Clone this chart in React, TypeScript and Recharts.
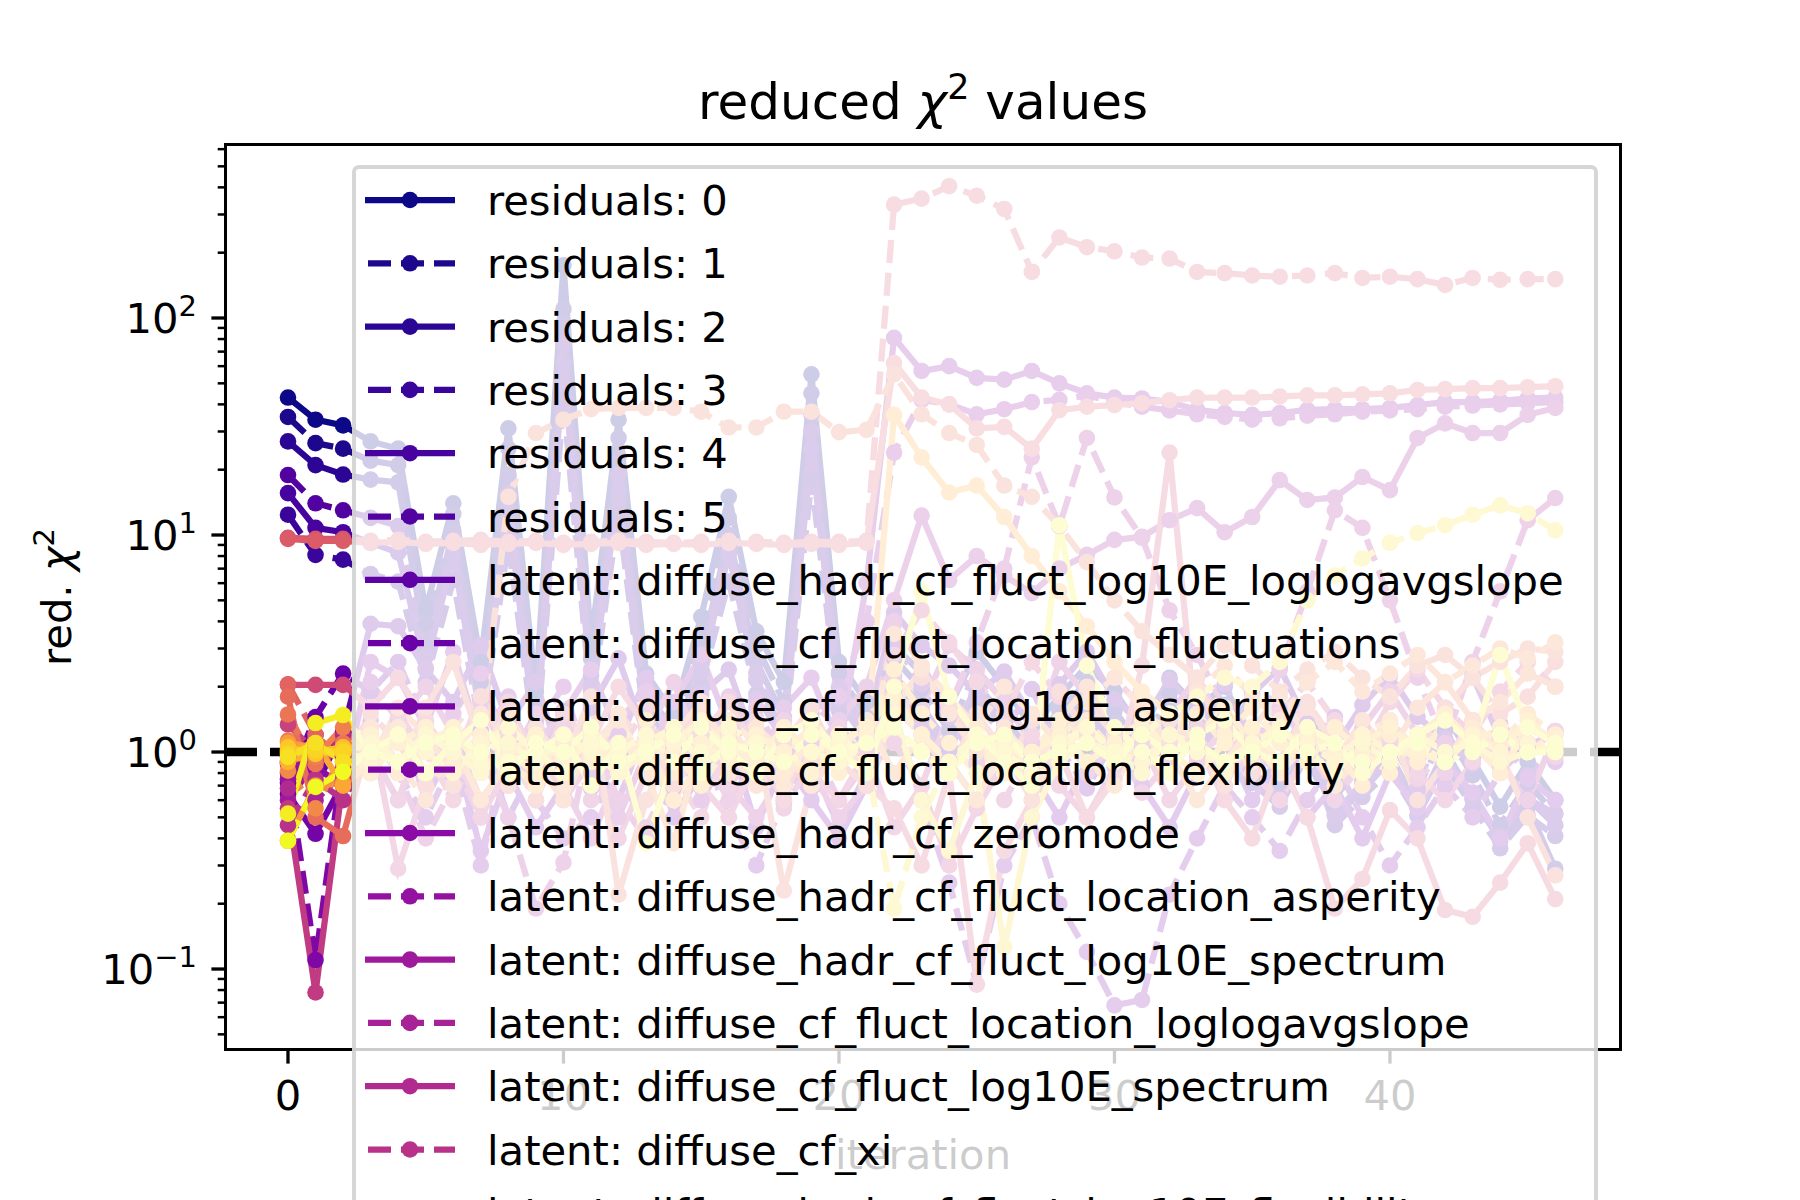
import { LineChart, Line, XAxis, YAxis, ReferenceLine } from 'recharts';

// iteration axis
const iterations = [
  0, 1, 2, 3, 4, 5, 6, 7, 8, 9, 10, 11, 12, 13, 14, 15, 16, 17, 18, 19, 20, 21, 22, 23,
  24, 25, 26, 27, 28, 29, 30, 31, 32, 33, 34, 35, 36, 37, 38, 39, 40, 41, 42, 43, 44, 45, 46,
];

const xTicks = [0, 10, 20, 30, 40];
const yTicks = [
  0.05, 0.06, 0.07, 0.08, 0.09, 0.1, 0.2, 0.3, 0.4, 0.5, 0.6, 0.7, 0.8, 0.9,
  1, 2, 3, 4, 5, 6, 7, 8, 9, 10, 20, 30, 40, 50, 60, 70, 80, 90, 100, 200, 300, 400, 500, 600,
];

// reduced chi^2 per iteration, one array per series (legend order)
const res0 = [
  43, 34, 32, 27, 25, 4.5, 14, 2.6, 31, 1.9,
  175, 3.2, 34, 2.3, 1.5, 4.2, 15, 3.6, 2.1, 55,
  2.6, 1.7, 3.1, 2.3, 1.6, 2.9, 2.0, 1.3, 1.8, 2.5,
  1.9, 1.25, 2.2, 1.6, 2.0, 1.15, 0.9, 1.65, 0.72, 1.05,
  1.35, 0.82, 1.5, 0.92, 0.56, 0.9, 0.6,
];
const res1 = [
  35, 26.5, 25, 22, 21, 3.9, 12.5, 2.1, 25, 1.6,
  110, 2.7, 28, 1.9, 1.25, 3.3, 12, 3.1, 1.7, 45,
  2.3, 1.45, 2.7, 1.95, 1.25, 2.4, 1.7, 1.1, 1.55, 2.1,
  1.55, 1.05, 1.85, 1.35, 1.65, 0.95, 0.72, 1.35, 0.62, 0.88,
  1.15, 0.67, 1.25, 0.78, 0.46, 0.72, 0.52,
];
const res2 = [
  27, 21, 19, 18, 17.5, 3.1, 10.5, 1.75, 19, 1.35,
  95, 2.25, 23, 1.55, 1.05, 2.8, 10, 2.6, 1.45, 36,
  1.95, 1.25, 2.25, 1.65, 1.05, 2.05, 1.45, 0.98, 1.35, 1.75,
  1.35, 0.92, 1.55, 1.12, 1.42, 0.82, 0.62, 1.12, 0.52, 0.72,
  0.98, 0.56, 1.02, 0.62, 0.39, 0.56, 0.29,
];
const res3 = [
  12.4, 8.1, 7.7, 6.6, 6.1, 2.1, 6.2, 1.25, 9.2, 1.02,
  42, 1.65, 12.5, 1.22, 0.82, 2.05, 6.1, 1.85, 1.12, 18,
  1.55, 1.02, 1.82, 1.42, 0.92, 1.62, 1.22, 0.82, 1.12, 1.42,
  1.12, 0.82, 1.32, 0.97, 1.22, 0.72, 0.56, 0.97, 0.46, 0.62,
  0.82, 0.51, 0.87, 0.56, 0.36, 0.51, 0.41,
];
const res4 = [
  15.6, 10.8, 10.3, 9.2, 8.3, 2.45, 8.1, 1.42, 13, 1.12,
  62, 1.92, 16, 1.32, 0.92, 2.35, 8.2, 2.15, 1.22, 25,
  1.72, 1.12, 2.02, 1.52, 1.02, 1.82, 1.32, 0.92, 1.22, 1.52,
  1.22, 0.87, 1.42, 1.02, 1.32, 0.77, 0.61, 1.02, 0.51, 0.66,
  0.92, 0.51, 0.92, 0.61, 0.41, 0.61, 0.46,
];
const res5 = [
  18.9, 14, 13, 12, 11, 2.75, 9.2, 1.52, 15.5, 1.22,
  76, 2.02, 19, 1.42, 1.02, 2.55, 9.1, 2.32, 1.32, 30,
  1.82, 1.22, 2.12, 1.55, 1.12, 1.92, 1.32, 0.92, 1.22, 1.62,
  1.22, 0.92, 1.42, 1.07, 1.32, 0.82, 0.61, 1.07, 0.51, 0.72,
  0.92, 0.56, 0.97, 0.61, 0.41, 0.61, 0.52,
];
const lat06 = [
  0.9, 0.7, 1.24, 3.9, 3.8, 2.4, 1.7, 3.1, 1.35, 2.1,
  0.85, 1.6, 2.7, 1.15, 0.68, 1.85, 2.4, 1.05, 0.58, 1.5,
  2.0, 1.3, 4.4, 3.1, 2.5, 1.85, 2.35, 1.45, 2.05, 2.9,
  1.75, 1.35, 2.15, 1.55, 1.15, 1.85, 2.45, 1.35, 1.05, 1.65,
  2.25, 1.45, 1.15, 0.88, 1.35, 1.05, 1.25,
];
const lat07 = [
  0.72, 1.45, 2.3, 1.9, 2.6, 1.35, 0.78, 1.2, 0.5, 0.88,
  1.55, 0.68, 1.1, 2.2, 1.25, 0.6, 0.98, 1.75, 1.15, 0.68,
  1.35, 0.88, 3.2, 2.05, 1.45, 0.88, 1.25, 1.95, 1.05, 0.68,
  1.15, 1.55, 0.88, 1.25, 2.05, 1.15, 0.78, 1.05, 1.45, 0.88,
  1.25, 0.68, 1.55, 2.25, 1.15, 0.78, 1.05,
];
const lat08 = [
  0.64, 0.42, 0.72, 0.9, 1.5, 0.6, 1.1, 0.35, 0.8, 0.45,
  0.7, 0.9, 0.6, 1.3, 0.5, 0.8, 1.2, 0.45, 0.9, 0.6,
  0.4, 0.7, 1.8, 1.3, 0.9, 0.6, 1.1, 0.8, 0.5, 0.9,
  1.3, 0.7, 0.45, 0.8, 1.1, 0.6, 0.9, 0.5, 0.7, 0.4,
  0.8, 0.55, 0.9, 0.65, 0.4, 0.75, 0.6,
];
const lat09 = [
  0.8, 0.11, 0.95, 1.4, 0.8, 0.5, 0.9, 0.3, 1.2, 0.6,
  0.4, 0.5, 0.9, 0.4, 0.7, 1.1, 0.5, 0.3, 0.6, 0.9,
  0.45, 0.8, 1.5, 0.6, 0.25, 0.085, 0.3, 0.5, 0.2, 0.12,
  0.068, 0.072, 0.22, 0.4, 0.7, 0.5, 0.35, 0.6, 0.9, 0.5,
  0.3, 0.45, 0.7, 0.5, 0.8, 1.1, 0.9,
];
const lat10 = [
  0.95, 0.85, 0.7, 2.6, 2.2, 1.3, 2.9, 1.1, 1.8, 0.8,
  1.5, 2.4, 1.2, 0.9, 1.7, 2.8, 1.3, 0.8, 1.6, 2.2,
  1.1, 6, 81, 57, 60, 53, 52, 57, 50, 45,
  43, 42.6, 41, 37.7, 36.5, 35.8, 36.5, 37.7, 38, 38,
  38.5, 39.7, 41, 41, 41.5, 42.6, 43,
];
const lat11 = [
  0.75, 1.2, 0.95, 2.1, 1.4, 0.7, 1.5, 2.3, 1.0, 1.3,
  2.0, 0.8, 1.4, 1.9, 1.1, 0.6, 1.2, 1.6, 0.9, 1.3,
  1.8, 4, 24, 42, 40, 36, 38, 41, 42, 44,
  41, 39, 37.5, 36, 35, 34, 34.5, 35.5, 36, 37,
  37.5, 38, 39, 39.5, 40, 40.5, 41,
];
const lat12 = [
  0.6, 0.9, 1.1, 1.0, 0.6, 1.2, 0.9, 1.7, 0.7, 1.1,
  1.5, 0.9, 0.5, 1.0, 1.3, 0.8, 1.8, 1.2, 0.7, 1.0,
  1.4, 2.0, 5, 12.3, 6.2, 8, 6.5, 5.4, 7, 8.1,
  9.5, 9.8, 11.7, 13.3, 10.3, 12.1, 17.9, 14.5, 14.9, 18.5,
  16.1, 28, 32.7, 29.5, 29.5, 35.8, 38.5,
];
const lat13 = [
  0.88, 0.6, 0.8, 1.2, 0.8, 0.4, 0.7, 1.0, 0.5, 0.19,
  0.31, 1.2, 0.6, 0.4, 0.9, 1.3, 0.7, 0.5, 0.8, 1.1,
  0.6, 0.9, 4, 2.5, 1.6, 3.2, 7, 22.8, 11, 28,
  14.9, 9.7, 4.5, 2.8, 1.6, 0.9, 2.4, 5.5, 13, 10.8,
  5, 2.2, 1.1, 2.6, 5.5, 11.7, 14.8,
];
const lat14 = [
  0.68, 0.95, 1.2, 0.8, 1.4, 2.0, 1.2, 0.6, 0.9, 1.5,
  0.7, 0.4, 0.8, 1.2, 2.1, 1.0, 0.6, 0.9, 1.4, 0.8,
  0.5, 0.7, 2.2, 1.6, 3.1, 2.4, 1.7, 1.1, 2.6, 1.8,
  1.2, 0.8, 1.5, 2.2, 1.3, 0.9, 1.6, 1.1, 0.7, 1.3,
  1.9, 1.2, 0.8, 1.4, 0.9, 0.6, 1.2,
];
const lat15 = [
  0.46, 0.75, 0.6, 1.0, 0.6, 1.4, 0.9, 0.5, 1.1, 0.8,
  1.3, 0.6, 0.9, 0.45, 0.8, 1.2, 0.7, 1.0, 0.55, 0.9,
  1.3, 0.8, 1.1, 0.7, 1.5, 0.9, 0.6, 1.0, 1.4, 0.8,
  1.1, 0.65, 0.9, 1.3, 0.7, 1.0, 0.8, 1.2, 0.6, 0.9,
  1.1, 0.75, 1.0, 1.3, 0.85, 1.1, 0.95,
];
const lat16 = [
  0.55, 0.078, 0.75, 1.3, 0.29, 0.7, 1.1, 0.5, 0.85, 1.2,
  0.6, 0.9, 0.4, 0.8, 1.1, 0.7, 0.5, 0.9, 1.3, 0.8,
  0.6, 1.0, 0.45, 0.7, 0.3, 0.55, 0.9, 1.2, 0.7, 0.5,
  0.85, 1.1, 0.6, 0.9, 1.3, 0.8, 0.6, 1.0, 0.7, 0.9,
  1.1, 0.8, 0.6, 0.9, 1.2, 1.0, 1.25,
];
const lat17 = [
  1.34, 1.0, 0.85, 0.8, 1.5, 1.0, 0.6, 1.2, 1.7, 0.9,
  0.7, 1.3, 1.0, 1.6, 0.8, 0.5, 1.1, 1.4, 0.9, 0.7,
  1.2, 1.0, 2.8, 4.5, 3.2, 2.1, 1.5, 2.6, 1.8, 1.3,
  2.2, 1.6, 1.1, 1.8, 1.3, 0.9, 1.5, 2.1, 1.4, 1.0,
  1.7, 2.4, 1.6, 1.2, 1.9, 2.6, 2.0,
];
const lat18 = [
  2.04, 2.04, 2.04, 1.6, 2.2, 1.4, 0.9, 1.8, 1.2, 0.7,
  1.5, 1.1, 2.0, 1.3, 0.8, 1.2, 1.7, 1.0, 0.6, 1.3,
  0.9, 0.7, 0.55, 0.3, 0.8, 0.085, 0.35, 0.6, 1.0, 0.5,
  0.75, 2.5, 24, 1.1, 0.6, 0.4, 0.9, 0.5, 0.19, 0.26,
  0.54, 0.4, 0.187, 0.174, 0.25, 0.38, 0.21,
];
const lat19 = [
  9.7, 9.6, 9.6, 9.4, 9.5, 9.3, 9.4, 9.5, 9.3, 9.4,
  9.2, 9.3, 9.4, 9.3, 9.2, 9.3, 9.4, 9.3, 9.2, 9.3,
  9.3, 9.4, 333, 355, 405, 366, 318, 163, 235, 212,
  203, 190, 188, 163, 161, 157, 155, 157, 161, 153,
  155, 151, 142, 153, 150, 151, 151,
];
const lat20 = [
  9.6, 9.4, 9.4, 9.2, 9.3, 9.1, 9.2, 9.0, 9.1, 9.2,
  9.0, 9.1, 9.2, 9.0, 9.1, 9.0, 9.2, 9.1, 9.0, 9.1,
  9.0, 9.2, 62, 43, 40, 31, 31.5, 25, 37.6, 39,
  39.7, 40.5, 41.8, 43, 43, 43, 43.5, 44, 44, 44.5,
  45, 46.6, 47, 47.5, 47.5, 48, 48.5,
];
const lat21 = [
  2.05, 1.2, 0.9, 1.5, 1.1, 0.7, 1.3, 1.8, 1.0, 0.6,
  1.2, 0.9, 1.5, 1.1, 0.7, 1.0, 1.4, 0.8, 1.1, 1.6,
  0.9, 0.7, 1.3, 2.2, 1.6, 1.1, 0.8, 1.4, 1.9, 1.2,
  0.9, 1.5, 1.1, 2.0, 1.3, 0.8, 1.2, 1.7, 1.1, 0.9,
  1.4, 1.0, 1.6, 2.2, 1.5, 1.8, 2.6,
];
const lat22 = [
  1.8, 0.5, 0.41, 1.2, 0.8, 1.6, 2.6, 1.1, 0.7, 1.3,
  0.9, 1.8, 0.22, 0.6, 1.1, 1.5, 0.8, 1.2, 0.23, 0.7,
  1.0, 1.4, 2.0, 1.2, 0.8, 1.5, 1.0, 0.6, 1.1, 1.7,
  1.2, 0.9, 1.4, 1.0, 0.7, 1.2, 0.9, 1.6, 1.1, 0.8,
  1.3, 0.6, 0.9, 1.4, 1.0, 0.5, 0.27,
];
const lat23 = [
  1.49, 0.88, 1.1, 0.8, 1.3, 1.0, 0.7, 1.2, 15, 29.5,
  34, 38, 38.5, 38.5, 38.5, 37, 31.3, 31.3, 37, 37,
  29.8, 30.5, 55, 36, 29.5, 26, 16.9, 15, 11, 7.5,
  5, 3.6, 2.8, 2.2, 3.1, 2.5, 1.9, 2.4, 2.9, 2.2,
  1.8, 2.5, 2.8, 2.2, 2.6, 3.0, 2.9,
];
const lat24 = [
  1.13, 0.95, 1.3, 0.9, 1.6, 1.2, 0.8, 1.0, 1.5, 0.9,
  0.6, 1.1, 1.4, 0.8, 1.2, 1.7, 1.0, 0.7, 1.3, 0.9,
  1.2, 0.8, 1.6, 2.4, 1.5, 1.0, 1.3, 0.9, 1.4, 2.0,
  1.3, 1.0, 1.5, 1.1, 0.8, 1.3, 1.8, 1.2, 0.9, 1.4,
  1.0, 1.6, 2.1, 1.4, 1.7, 2.3, 2.0,
];
const lat25 = [
  0.82, 0.55, 1.0, 1.3, 0.9, 0.6, 1.1, 1.5, 0.8, 1.2,
  0.7, 1.0, 1.4, 0.9, 0.6, 1.1, 0.8, 1.3, 1.0, 0.7,
  1.2, 0.9, 3.5, 2.5, 1.8, 1.3, 2.0, 1.5, 1.1, 1.7,
  2.2, 1.6, 1.2, 1.9, 2.5, 1.8, 1.4, 2.1, 2.6, 1.9,
  2.3, 2.8, 2.1, 2.5, 3.0, 2.7, 3.2,
];
const lat26 = [
  0.39, 0.7, 0.72, 1.0, 1.3, 0.8, 1.1, 0.6, 0.9, 1.2,
  0.7, 1.0, 1.5, 0.8, 0.38, 1.1, 1.3, 0.9, 0.7, 1.2,
  1.0, 1.4, 0.8, 1.2, 0.9, 0.6, 1.1, 0.8, 1.3, 0.9,
  0.7, 1.2, 1.0, 0.6, 0.9, 1.3, 0.8, 1.1, 0.7, 1.0,
  1.2, 0.9, 1.4, 1.1, 0.8, 1.3, 1.1,
];
const lat27 = [
  1.1, 1.05, 0.98, 1.2, 0.8, 1.3, 1.0, 1.4, 0.9, 0.7,
  1.1, 1.3, 0.9, 1.2, 0.8, 1.0, 1.4, 1.1, 0.8, 1.2,
  0.9, 1.1, 1.6, 1.2, 0.9, 1.3, 1.0, 0.7, 1.1, 1.4,
  1.0, 0.8, 1.2, 1.5, 1.1, 0.9, 1.3, 1.0, 0.8, 1.2,
  1.4, 1.0, 0.9, 1.3, 1.1, 1.5, 1.2,
];
const lat28 = [
  1.0, 1.1, 0.7, 0.9, 1.2, 0.8, 1.1, 1.4, 0.9, 0.7,
  1.0, 1.3, 0.8, 1.1, 0.6, 0.9, 1.2, 0.8, 1.0, 1.3,
  0.9, 1.1, 35.8, 22.8, 15.7, 16.9, 12.1, 8, 5.5, 3.8,
  2.6, 1.9, 1.5, 1.2, 1.6, 1.1, 0.8, 1.3, 1.0, 0.7,
  1.2, 0.9, 1.4, 1.1, 0.8, 1.3, 1.1,
];
const lat29 = [
  0.9, 1.0, 1.05, 0.8, 1.1, 1.3, 0.9, 1.2, 1.0, 0.8,
  1.2, 0.9, 1.1, 1.4, 1.0, 0.7, 1.1, 0.9, 1.3, 1.0,
  0.8, 1.2, 2.4, 1.5, 1.1, 0.8, 1.2, 1.0, 1.4, 1.1,
  0.9, 1.3, 1.0, 0.8, 1.2, 1.6, 1.1, 0.9, 1.3, 1.0,
  0.8, 1.2, 1.5, 1.1, 1.3, 1.0, 1.2,
];
const lat30 = [
  1.02, 1.0, 1.05, 1.2, 0.9, 1.1, 1.3, 0.8, 1.0, 1.2,
  0.9, 1.1, 0.8, 1.0, 1.3, 1.1, 0.9, 1.2, 1.0, 0.8,
  1.1, 1.3, 1.8, 1.2, 0.9, 1.1, 0.8, 1.0, 1.2, 0.9,
  1.1, 1.4, 1.0, 0.8, 1.1, 1.3, 0.9, 1.2, 1.0, 1.1,
  1.3, 1.0, 0.9, 1.2, 1.0, 1.4, 1.1,
];
const lat31 = [
  1.05, 0.98, 1.02, 0.9, 1.2, 1.0, 0.8, 1.1, 1.3, 1.0,
  0.8, 1.2, 1.0, 0.9, 1.1, 1.4, 1.0, 0.8, 1.2, 1.0,
  1.1, 0.9, 1.3, 1.0, 0.8, 1.2, 1.1, 0.9, 1.0, 1.3,
  1.0, 0.9, 1.2, 1.1, 0.8, 1.0, 1.3, 1.1, 0.9, 1.2,
  1.0, 1.1, 0.9, 1.2, 1.0, 1.1, 1.0,
];
const lat32 = [
  0.98, 1.02, 1.0, 1.1, 0.9, 1.2, 1.0, 0.8, 1.1, 0.9,
  1.2, 1.0, 0.8, 1.1, 1.3, 0.9, 1.0, 0.8, 1.2, 1.0,
  0.9, 1.1, 1.5, 0.6, 0.35, 0.8, 0.126, 0.5, 0.9, 1.1,
  1.0, 0.8, 1.2, 1.0, 0.9, 1.1, 1.3, 1.0, 0.8, 1.1,
  0.9, 1.2, 1.0, 1.1, 0.9, 1.0, 1.05,
];
const lat33 = [
  0.95, 1.1, 0.9, 1.0, 1.2, 0.8, 1.1, 0.9, 1.3, 1.0,
  0.8, 1.1, 1.0, 1.2, 0.9, 1.0, 1.3, 1.1, 0.9, 1.0,
  1.2, 0.9, 0.19, 0.5, 0.9, 1.2, 1.0, 0.8, 1.1, 1.3,
  1.0, 1.2, 1.5, 1.8, 2.2, 2.0, 2.6, 5, 6.5, 7.8,
  9.2, 10.2, 11.1, 12.4, 13.7, 12.6, 10.5,
];
const lat34 = [
  0.52, 1.36, 1.48, 1.0, 1.2, 0.8, 1.1, 1.4, 0.9, 1.0,
  1.2, 0.7, 1.1, 0.38, 0.9, 1.3, 1.0, 0.8, 1.2, 1.4,
  1.0, 0.8, 2.0, 5.5, 1.8, 1.2, 0.9, 0.7, 11.1, 2.5,
  1.3, 1.0, 0.8, 1.2, 1.4, 1.0, 0.9, 1.3, 1.1, 0.8,
  1.0, 1.2, 1.4, 1.1, 2.8, 1.3, 1.1,
];
const lat35 = [
  0.39, 0.69, 0.81, 1.0, 0.9, 1.1, 1.2, 1.0, 0.8, 1.1,
  1.0, 1.3, 0.9, 1.0, 1.2, 0.8, 1.1, 1.0, 0.9, 1.2,
  1.0, 1.1, 1.3, 1.0, 0.8, 1.1, 1.2, 0.9, 1.0, 1.1,
  0.9, 1.2, 1.0, 1.1, 0.9, 1.0, 1.2, 1.0, 1.1, 0.9,
  1.0, 1.1, 0.9, 1.0, 1.2, 1.0, 1.0,
];

const allSeries = [
  res0, res1, res2, res3, res4, res5,
  lat06, lat07, lat08, lat09, lat10, lat11, lat12, lat13, lat14, lat15,
  lat16, lat17, lat18, lat19, lat20, lat21, lat22, lat23, lat24, lat25,
  lat26, lat27, lat28, lat29, lat30, lat31, lat32, lat33, lat34, lat35,
];

// legend entries that fit on the figure (the rest run off the bottom)
const legendLabels = [
  'residuals: 0',
  'residuals: 1',
  'residuals: 2',
  'residuals: 3',
  'residuals: 4',
  'residuals: 5',
  'latent: diffuse_hadr_cf_fluct_log10E_loglogavgslope',
  'latent: diffuse_cf_fluct_location_fluctuations',
  'latent: diffuse_cf_fluct_log10E_asperity',
  'latent: diffuse_cf_fluct_location_flexibility',
  'latent: diffuse_hadr_cf_zeromode',
  'latent: diffuse_hadr_cf_fluct_location_asperity',
  'latent: diffuse_hadr_cf_fluct_log10E_spectrum',
  'latent: diffuse_cf_fluct_location_loglogavgslope',
  'latent: diffuse_cf_fluct_log10E_spectrum',
  'latent: diffuse_cf_xi',
  'latent: diffuse_hadr_cf_fluct_log10E_flexibility',
];

// plasma colormap stops
const plasmaStops = [
  [13, 8, 135], [65, 4, 157], [106, 0, 168], [143, 13, 164], [177, 42, 144],
  [204, 71, 120], [225, 100, 98], [242, 132, 75], [252, 166, 54], [252, 206, 37], [240, 249, 33],
];
const plasma = (t: number) => {
  const p = Math.min(Math.max(t, 0), 1) * 10;
  const i = Math.min(Math.floor(p), 9);
  const f = p - i;
  const a = plasmaStops[i];
  const b = plasmaStops[i + 1];
  const c = a.map((v, k) => Math.round(v + (b[k] - v) * f));
  return `rgb(${c[0]},${c[1]},${c[2]})`;
};

const FONT = '"DejaVu Sans", sans-serif';
const LW = 6.25; // 1.5pt at 300dpi
const DOT_R = 8.3;
const DASH = '23 10';

const colors = allSeries.map((_, i) => plasma(i / (allSeries.length - 1)));

const data = iterations.map((it, j) => {
  const row: { [key: string]: number } = { iteration: it };
  allSeries.forEach((s, i) => {
    row[`s${i}`] = s[j];
  });
  return row;
});

const supText = (e: number) => (e < 0 ? '\u2212' + Math.abs(e) : String(e));

function YTick(props: any) {
  const { x, y, payload } = props;
  const lv = Math.log10(payload.value);
  const e = Math.round(lv);
  const major = Math.abs(lv - e) < 1e-6;
  const len = major ? 14.6 : 8.3;
  return (
    <g>
      <line x1={x - len} x2={x} y1={y} y2={y} stroke="#000" strokeWidth={major ? 3.3 : 2.5} />
      {major && (
        <text x={x - 29} y={y + 15} textAnchor="end" fontSize={41.7} fontFamily={FONT} fill="#000">
          10<tspan dy={-17} fontSize={29}>{supText(e)}</tspan>
        </text>
      )}
    </g>
  );
}

function XTick(props: any) {
  const { x, y, payload } = props;
  return (
    <g>
      <line x1={x} x2={x} y1={y} y2={y + 14.6} stroke="#000" strokeWidth={3.3} />
      <text x={x} y={y + 61} textAnchor="middle" fontSize={41.7} fontFamily={FONT} fill="#000">
        {payload.value}
      </text>
    </g>
  );
}

export default function App() {
  const plotLeft = 226;
  const plotTop = 145;
  const plotRight = 1620;
  const plotBottom = 1049;
  const legendTop = 165;
  const rowGap = 63.3;

  return (
    <div
      style={{
        position: 'fixed',
        left: 0,
        top: 0,
        width: 1800,
        height: 1200,
        overflow: 'hidden',
        background: '#fff',
        fontFamily: FONT,
      }}
    >
      <div style={{ position: 'absolute', left: 0, top: 0 }}>
        <LineChart
          width={1800}
          height={1200}
          data={data}
          margin={{ top: plotTop, right: 1800 - plotRight, bottom: 1200 - plotBottom - 60, left: plotLeft - 120 }}
        >
          <XAxis
            dataKey="iteration"
            type="number"
            domain={[-2.25, 48.35]}
            ticks={xTicks}
            allowDataOverflow
            height={60}
            axisLine={false}
            tickLine={false}
            tickSize={0}
            tickMargin={0}
            tick={<XTick />}
            interval={0}
          />
          <YAxis
            type="number"
            scale="log"
            domain={[0.0428, 627]}
            ticks={yTicks}
            allowDataOverflow
            width={120}
            axisLine={false}
            tickLine={false}
            tickSize={0}
            tickMargin={0}
            tick={<YTick />}
            interval={0}
          />
          <ReferenceLine y={1} stroke="#000" strokeWidth={8.3} strokeDasharray="31 13" />
          {allSeries.map((_, i) => (
            <Line
              key={i}
              type="linear"
              dataKey={`s${i}`}
              stroke={colors[i]}
              strokeWidth={LW}
              strokeDasharray={i % 2 === 1 ? DASH : undefined}
              dot={{ r: DOT_R, fill: colors[i], stroke: 'none', strokeWidth: 0 }}
              activeDot={false}
              isAnimationActive={false}
            />
          ))}
        </LineChart>
      </div>

      {/* title and axis labels */}
      <svg width={1800} height={1200} style={{ position: 'absolute', left: 0, top: 0 }}>
        <text x={923} y={119} textAnchor="middle" fontSize={50} fontFamily={FONT} fill="#000">
          reduced <tspan fontStyle="italic">χ</tspan>
          <tspan dy={-20} fontSize={35}>2</tspan>
          <tspan dy={20}> values</tspan>
        </text>
        <text
          x={71}
          y={597}
          textAnchor="middle"
          fontSize={41.7}
          fontFamily={FONT}
          fill="#000"
          transform="rotate(-90 71 597)"
        >
          red. <tspan fontStyle="italic">χ</tspan>
          <tspan dy={-17} fontSize={29}>2</tspan>
        </text>
        <text x={923} y={1169} textAnchor="middle" fontSize={41.7} fontFamily={FONT} fill="#000">
          iteration
        </text>
      </svg>

      {/* axes frame */}
      <div
        style={{
          position: 'absolute',
          left: plotLeft - 1.65,
          top: plotTop - 1.65,
          width: plotRight - plotLeft + 3.3,
          height: plotBottom - plotTop + 3.3,
          border: '3.3px solid #000',
          boxSizing: 'border-box',
        }}
      />

      {/* legend box, semi-transparent like matplotlib's framealpha=0.8 */}
      <div
        style={{
          position: 'absolute',
          left: 352,
          top: legendTop,
          width: 1598 - 352,
          height: 1200,
          background: 'rgba(255,255,255,0.8)',
          border: '4px solid rgba(204,204,204,0.8)',
          borderRadius: 7,
          boxSizing: 'border-box',
        }}
      />
      <svg width={1800} height={1200} style={{ position: 'absolute', left: 0, top: 0 }}>
        {legendLabels.map((label, i) => {
          const cy = 200 + i * rowGap;
          return (
            <g key={label}>
              <line
                x1={365}
                x2={455}
                y1={cy}
                y2={cy}
                stroke={colors[i]}
                strokeWidth={LW}
                strokeDasharray={i % 2 === 1 ? DASH : undefined}
                strokeDashoffset={-3}
              />
              <circle cx={410} cy={cy} r={DOT_R} fill={colors[i]} />
              <text x={487} y={cy + 15} fontSize={41.7} fontFamily={FONT} fill="#000">
                {label}
              </text>
            </g>
          );
        })}
      </svg>
    </div>
  );
}
